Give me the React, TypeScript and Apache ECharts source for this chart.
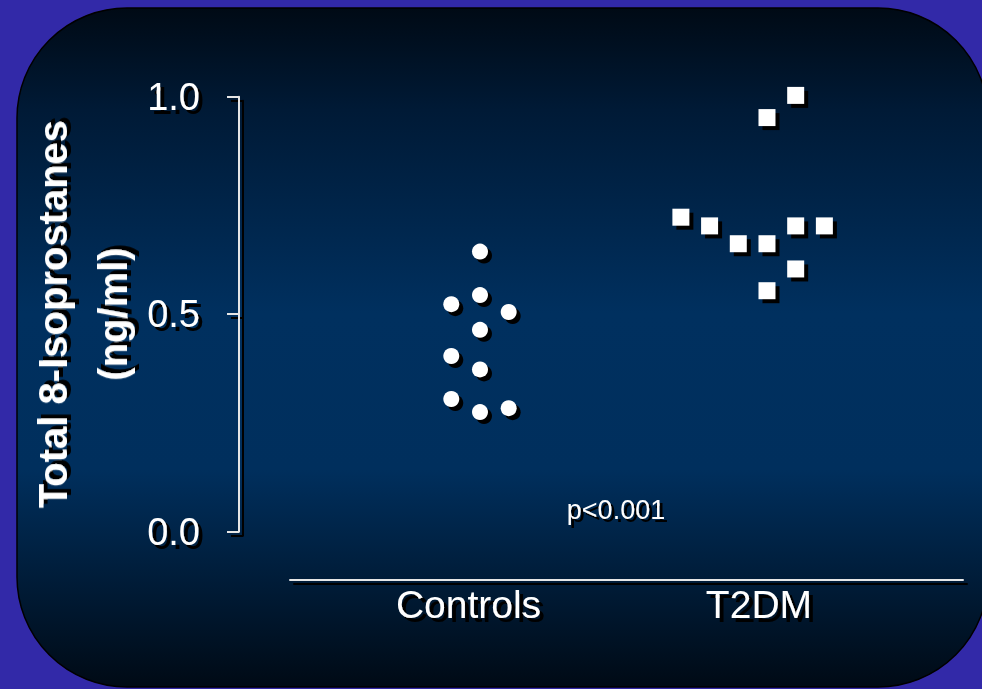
import React, { useEffect, useRef } from "react";
import * as echarts from "echarts";

// ---- data ----
const categories = ["Controls", "T2DM"];
// group centre positions on the horizontal value axis (column units)
const groupCentres = [6, 16];
// Controls: column offset within group, and value (ng/ml)
const controlsColumn = [0, -1, 0, 1, 0, -1, 0, -1, 0, 1];
const controlsValues = [0.644, 0.523, 0.544, 0.505, 0.464, 0.404, 0.373, 0.305, 0.275, 0.284];
// T2DM
const t2dmColumn = [1, 0, -3, -2, -1, 0, 1, 2, 1, 0];
const t2dmValues = [1.003, 0.952, 0.723, 0.703, 0.662, 0.662, 0.703, 0.703, 0.604, 0.554];
const yTicks = [0, 0.5, 1.0];
const yAxisTitle = "Total 8-Isoprostanes\n(ng/ml)";
const pValueText = "p<0.001";

const FONT = "'Liberation Sans', Arial, sans-serif";
const SH = 4; // drop-shadow offset in px
const TXT_SHADOW = { textShadowColor: "#000", textShadowOffsetX: 4, textShadowOffsetY: 4, textShadowBlur: 0.5 };

export default function App() {
  const ref = useRef<HTMLDivElement>(null);
  useEffect(() => {
    if (!ref.current) return;
    const chart = echarts.init(ref.current, null, { renderer: "svg" });
    const labelPos = [groupCentres[0] - 0.4, groupCentres[1] - 0.28];

    const makeX = (gridIndex: number, main: boolean, z: number) => ({
      type: "value",
      gridIndex,
      z,
      min: -0.62,
      max: 22.83,
      offset: 48,
      splitLine: { show: false },
      axisTick: { show: false },
      axisLine: { show: true, onZero: false, lineStyle: { color: main ? "#e6e6e6" : "#000", width: 2 } },
      axisLabel: {
        show: main,
        customValues: labelPos,
        formatter: (v: number) => {
          const i = labelPos.findIndex((p) => Math.abs(p - v) < 1e-6);
          return i >= 0 ? categories[i] : "";
        },
        color: "#fff",
        fontSize: 39,
        fontFamily: FONT,
        margin: 5,
        ...TXT_SHADOW,
      },
    });
    const makeY = (gridIndex: number, main: boolean, z: number) => ({
      type: "value",
      gridIndex,
      z,
      min: yTicks[0],
      max: yTicks[yTicks.length - 1],
      interval: 0.5,
      offset: 51,
      splitLine: { show: false },
      axisLine: { show: true, onZero: false, lineStyle: { color: main ? "#e6e6e6" : "#000", width: 2 } },
      axisTick: { show: true, length: 12, lineStyle: { color: main ? "#e6e6e6" : "#000", width: 2 } },
      axisLabel: {
        show: main,
        formatter: (v: number) => v.toFixed(1),
        color: "#fff",
        fontSize: 38,
        fontFamily: FONT,
        margin: 39,
        ...TXT_SHADOW,
      },
      name: main ? yAxisTitle : "",
      nameLocation: "middle",
      nameRotate: 90,
      nameGap: 96,
      nameMoveOverlap: false,
      nameTextStyle: {
        color: "#fff",
        fontSize: 40,
        fontWeight: "bold",
        fontFamily: FONT,
        lineHeight: 60,
        align: "center",
        ...TXT_SHADOW,
      },
    });

    const ctrlData = controlsValues.map((v, i) => [groupCentres[0] + controlsColumn[i], v]);
    const t2dmData = t2dmValues.map((v, i) => [groupCentres[1] + t2dmColumn[i], v]);

    const option: any = {
      animation: false,
      backgroundColor: "#3229a8",
      textStyle: { fontFamily: FONT },
      grid: [
        { left: 290, right: 19, top: 96.7, bottom: 157.3, outerBoundsMode: "none" },
        { left: 290 + SH, right: 19 - SH, top: 96.7 + SH, bottom: 157.3 - SH, outerBoundsMode: "none" },
      ],
      graphic: [
        {
          type: "rect",
          z: -10,
          silent: true,
          shape: { x: 17, y: 8, width: 971, height: 679, r: 110 },
          style: {
            fill: new echarts.graphic.LinearGradient(0, 0, 0, 1, [
              { offset: 0, color: "#000a15" },
              { offset: 0.15, color: "#001a36" },
              { offset: 0.45, color: "#00305f" },
              { offset: 0.68, color: "#002f5d" },
              { offset: 1, color: "#000a15" },
            ]),
            stroke: "#000",
            lineWidth: 1.5,
          },
        },
        {
          type: "text",
          z: 10,
          x: 616,
          y: 510,
          style: {
            text: pValueText,
            fill: "#fff",
            fontSize: 27,
            fontFamily: FONT,
            align: "center",
            verticalAlign: "middle",
            textShadowColor: "#000",
            textShadowOffsetX: 3,
            textShadowOffsetY: 3,
            textShadowBlur: 0.5,
          },
        },
      ],
      xAxis: [makeX(0, true, 2), makeX(1, false, 0)],
      yAxis: [makeY(0, true, 2), makeY(1, false, 0)],
      series: [
        {
          name: categories[0] + " shadow",
          type: "scatter",
          xAxisIndex: 1,
          yAxisIndex: 1,
          z: 1,
          clip: false,
          silent: true,
          symbol: "circle",
          symbolSize: 16,
          itemStyle: { color: "#000", opacity: 1 },
          data: ctrlData,
        },
        {
          name: categories[1] + " shadow",
          type: "scatter",
          xAxisIndex: 1,
          yAxisIndex: 1,
          z: 1,
          clip: false,
          silent: true,
          symbol: "rect",
          symbolSize: 17,
          itemStyle: { color: "#000", opacity: 1 },
          data: t2dmData,
        },
        {
          name: categories[0],
          type: "scatter",
          z: 3,
          clip: false,
          symbol: "circle",
          symbolSize: 16,
          itemStyle: { color: "#fff", opacity: 1 },
          data: ctrlData,
        },
        {
          name: categories[1],
          type: "scatter",
          z: 3,
          clip: false,
          symbol: "rect",
          symbolSize: 17,
          itemStyle: { color: "#fff", opacity: 1 },
          data: t2dmData,
        },
      ],
    };
    chart.setOption(option);
    return () => chart.dispose();
  }, []);
  return (
    <div
      ref={ref}
      style={{ position: "absolute", left: 0, top: 0, width: 982, height: 689 }}
    />
  );
}
